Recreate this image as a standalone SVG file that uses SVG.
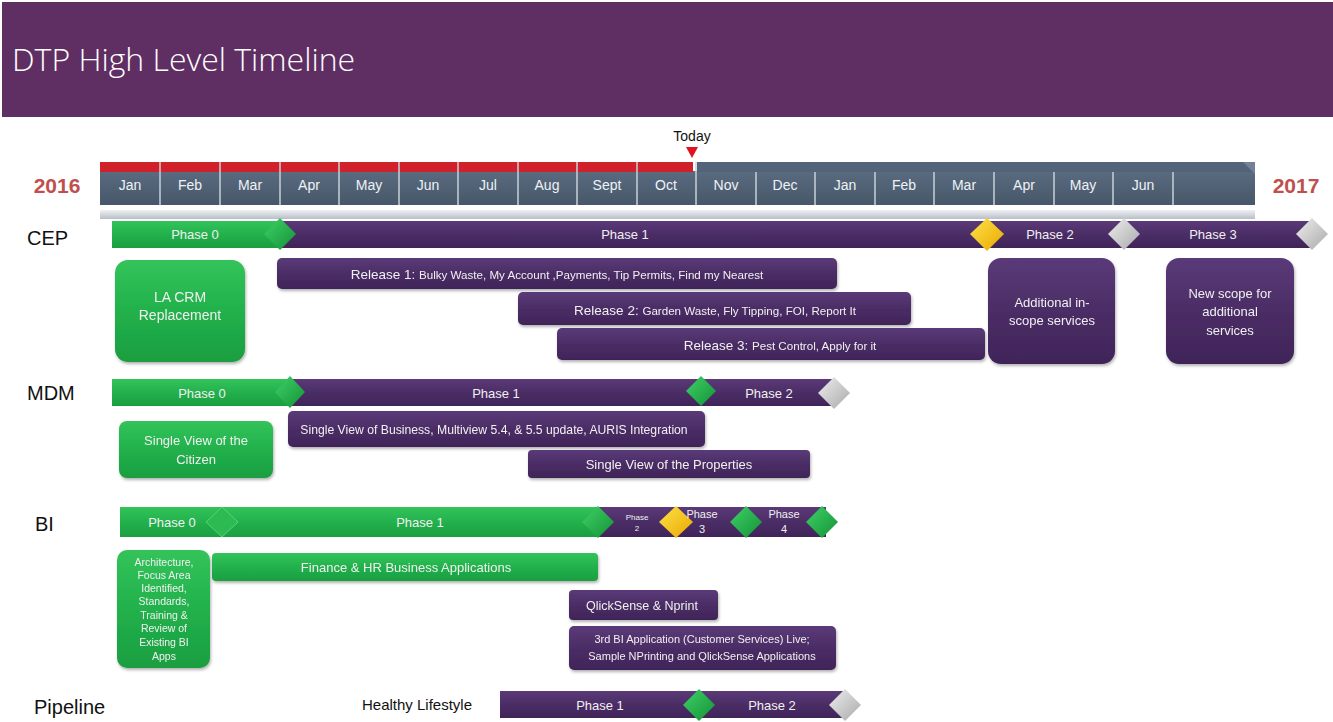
<svg xmlns="http://www.w3.org/2000/svg" width="1333" height="722" viewBox="0 0 1333 722">
<defs>
<linearGradient id="gPur" x1="0" y1="0" x2="0" y2="1"><stop offset="0" stop-color="#5a3a78"/><stop offset="0.5" stop-color="#4b2d66"/><stop offset="1" stop-color="#3f2458"/></linearGradient>
<linearGradient id="gGrn" x1="0" y1="0" x2="0" y2="1"><stop offset="0" stop-color="#33c35a"/><stop offset="0.5" stop-color="#22b14c"/><stop offset="1" stop-color="#1a9e40"/></linearGradient>
<linearGradient id="gCell" x1="0" y1="0" x2="0" y2="1"><stop offset="0" stop-color="#5a6b80"/><stop offset="1" stop-color="#475769"/></linearGradient>
<linearGradient id="gBand" x1="0" y1="0" x2="0" y2="1"><stop offset="0" stop-color="#eef0f4"/><stop offset="1" stop-color="#b8bec8"/></linearGradient>
<linearGradient id="gDG" x1="0" y1="0" x2="1" y2="1"><stop offset="0" stop-color="#3fd168"/><stop offset="1" stop-color="#149236"/></linearGradient>
<linearGradient id="gDY" x1="0" y1="0" x2="1" y2="1"><stop offset="0" stop-color="#ffe24a"/><stop offset="1" stop-color="#e8a800"/></linearGradient>
<linearGradient id="gDW" x1="0" y1="0" x2="1" y2="1"><stop offset="0" stop-color="#eeeeee"/><stop offset="1" stop-color="#a9a9a9"/></linearGradient>
<filter id="sh" x="-10%" y="-10%" width="120%" height="130%"><feDropShadow dx="1" dy="2" stdDeviation="1.5" flood-color="#000" flood-opacity="0.3"/></filter>
</defs>
<style>
text{font-family:"Liberation Sans",Arial,sans-serif}
.mo{fill:#eef2f6;font-size:14px;text-anchor:middle}
.ph{fill:#f0f0f0;font-size:13px;text-anchor:middle}
.bx{fill:#f0f0f0;text-anchor:middle}
.lbl{fill:#111;font-size:20px}
.yr{fill:#c0504d;font-size:21px;font-weight:bold;text-anchor:middle}
.pur{fill:url(#gPur)}
.grn{fill:url(#gGrn)}
.dg{fill:url(#gDG)}
.dy{fill:url(#gDY)}
.dw{fill:url(#gDW)}
.sep{stroke:#c8d0da;stroke-width:1.5}
</style>

<g id="header">
<rect x="2" y="2" width="1331" height="115" fill="#5f2e62"/>
<text x="12" y="71" fill="#ffffff" font-size="32" font-weight="300" style="font-family:'Open Sans','Liberation Sans',sans-serif">DTP High Level Timeline</text>
</g>

<g id="timeline">
<rect x="100" y="171" width="1155" height="34" fill="url(#gCell)"/>
<rect x="100" y="162" width="593" height="10" fill="#d0202a"/>
<g class="sep">
<line x1="160" y1="162" x2="160" y2="205"/><line x1="220" y1="162" x2="220" y2="205"/><line x1="280" y1="162" x2="280" y2="205"/>
<line x1="339" y1="162" x2="339" y2="205"/><line x1="399" y1="162" x2="399" y2="205"/><line x1="458" y1="162" x2="458" y2="205"/>
<line x1="518" y1="162" x2="518" y2="205"/><line x1="577" y1="162" x2="577" y2="205"/><line x1="637" y1="162" x2="637" y2="205"/>
<line x1="696" y1="162" x2="696" y2="205"/><line x1="756" y1="162" x2="756" y2="205"/><line x1="815" y1="162" x2="815" y2="205"/>
<line x1="875" y1="162" x2="875" y2="205"/><line x1="934" y1="162" x2="934" y2="205"/><line x1="994" y1="162" x2="994" y2="205"/>
<line x1="1054" y1="162" x2="1054" y2="205"/><line x1="1113" y1="162" x2="1113" y2="205"/><line x1="1173" y1="162" x2="1173" y2="205"/>
</g>
<rect x="697" y="162" width="558" height="10" fill="#53647a"/>
<polygon points="1243,162 1255,162 1255,174" fill="#8794a6" opacity="0.6"/>
<text class="mo" x="130" y="190">Jan</text><text class="mo" x="190" y="190">Feb</text><text class="mo" x="250" y="190">Mar</text>
<text class="mo" x="309" y="190">Apr</text><text class="mo" x="369" y="190">May</text><text class="mo" x="428" y="190">Jun</text>
<text class="mo" x="488" y="190">Jul</text><text class="mo" x="547" y="190">Aug</text><text class="mo" x="607" y="190">Sept</text>
<text class="mo" x="666" y="190">Oct</text><text class="mo" x="726" y="190">Nov</text><text class="mo" x="785" y="190">Dec</text>
<text class="mo" x="845" y="190">Jan</text><text class="mo" x="904" y="190">Feb</text><text class="mo" x="964" y="190">Mar</text>
<text class="mo" x="1024" y="190">Apr</text><text class="mo" x="1083" y="190">May</text><text class="mo" x="1143" y="190">Jun</text>
<rect x="100" y="210" width="1155" height="9" fill="url(#gBand)"/>
<text class="yr" x="57" y="193">2016</text>
<text class="yr" x="1296" y="193">2017</text>
<text x="692" y="141" fill="#111" font-size="14" text-anchor="middle">Today</text>
<polygon points="686,147 698,147 692,158" fill="#e0141e"/>
</g>

<g id="cep">
<text class="lbl" x="27" y="245">CEP</text>
<rect class="pur" x="280" y="221" width="1033" height="27"/>
<rect class="grn" x="112" y="221" width="168" height="27"/>
<polygon class="dg" points="280,218 296,234 280,250 264,234"/>
<polygon class="dy" points="987,218 1004,234 987,251 970,234"/>
<polygon class="dw" points="1124,218 1140,234 1124,250 1108,234"/>
<polygon class="dw" points="1312,218 1328,234 1312,250 1296,234"/>
<text class="ph" x="195" y="239">Phase 0</text>
<text class="ph" x="625" y="239">Phase 1</text>
<text class="ph" x="1050" y="239">Phase 2</text>
<text class="ph" x="1213" y="239">Phase 3</text>
</g>

<g id="cep-la-crm" filter="url(#sh)">
<rect class="grn" x="115" y="260" width="130" height="102" rx="13"/>
<text class="bx" font-size="14" x="180" y="302">LA CRM</text>
<text class="bx" font-size="14" x="180" y="320">Replacement</text>
</g>
<g id="cep-release1" filter="url(#sh)">
<rect class="pur" x="277" y="258" width="560" height="31" rx="5"/>
<text class="bx" x="557" y="279"><tspan font-size="13.5">Release 1: </tspan><tspan font-size="11.6">Bulky Waste, My Account ,Payments, Tip Permits, Find my Nearest</tspan></text>
</g>
<g id="cep-release2" filter="url(#sh)">
<rect class="pur" x="518" y="292" width="393" height="33" rx="5"/>
<text class="bx" x="715" y="315"><tspan font-size="13.5">Release 2: </tspan><tspan font-size="11.6">Garden Waste, Fly Tipping, FOI, Report It</tspan></text>
</g>
<g id="cep-release3" filter="url(#sh)">
<rect class="pur" x="557" y="328" width="428" height="32" rx="5"/>
<text class="bx" x="780" y="350"><tspan font-size="13.5">Release 3: </tspan><tspan font-size="11.6">Pest Control, Apply for it</tspan></text>
</g>
<g id="cep-additional" filter="url(#sh)">
<rect class="pur" x="988" y="258" width="127" height="106" rx="13"/>
<text class="bx" font-size="13" x="1052" y="307">Additional in-</text>
<text class="bx" font-size="13" x="1052" y="325">scope services</text>
</g>
<g id="cep-newscope" filter="url(#sh)">
<rect class="pur" x="1166" y="258" width="128" height="106" rx="13"/>
<text class="bx" font-size="13" x="1230" y="298">New scope for</text>
<text class="bx" font-size="13" x="1230" y="316">additional</text>
<text class="bx" font-size="13" x="1230" y="335">services</text>
</g>

<g id="mdm">
<text class="lbl" x="27" y="400">MDM</text>
<rect class="pur" x="290" y="379" width="545" height="27"/>
<rect class="grn" x="112" y="379" width="178" height="27"/>
<polygon class="dg" points="290,376 305,392 290,408 275,392"/>
<polygon class="dg" points="701,376 716,391 701,406 686,391"/>
<polygon class="dw" points="834,377 850,393 834,409 818,393"/>
<text class="ph" x="202" y="398">Phase 0</text>
<text class="ph" x="496" y="398">Phase 1</text>
<text class="ph" x="769" y="398">Phase 2</text>
</g>
<g id="mdm-citizen" filter="url(#sh)">
<rect class="grn" x="119" y="421" width="154" height="57" rx="8"/>
<text class="bx" font-size="13" x="196" y="445">Single View of the</text>
<text class="bx" font-size="13" x="196" y="464">Citizen</text>
</g>
<g id="mdm-business" filter="url(#sh)">
<rect class="pur" x="288" y="411" width="417" height="36" rx="5"/>
<text class="bx" font-size="12.2" x="494" y="434">Single View  of Business,  Multiview 5.4, &amp; 5.5 update,  AURIS Integration</text>
</g>
<g id="mdm-properties" filter="url(#sh)">
<rect class="pur" x="528" y="450" width="282" height="28" rx="4"/>
<text class="bx" font-size="13" x="669" y="469">Single View of the Properties</text>
</g>

<g id="bi">
<text class="lbl" x="35" y="531">BI</text>
<rect class="pur" x="598" y="507" width="228" height="30"/>
<rect class="grn" x="120" y="507" width="478" height="30"/>
<polygon points="222,507 238,522 222,537 206,522" fill="#2cbb52" stroke="#5ad27a" stroke-width="1"/>
<polygon class="dg" points="598,506 614,522 598,538 582,522"/>
<polygon class="dy" points="676,506 693,522 676,538 659,522"/>
<polygon class="dg" points="746,506 762,522 746,538 730,522"/>
<polygon class="dg" points="822,506 838,522 822,538 806,522"/>
<text class="ph" x="172" y="527">Phase 0</text>
<text class="ph" x="420" y="527">Phase 1</text>
<text class="bx" font-size="8" x="637" y="520">Phase</text>
<text class="bx" font-size="8" x="637" y="531">2</text>
<text class="bx" font-size="11" x="702" y="518">Phase</text>
<text class="bx" font-size="11" x="702" y="533">3</text>
<text class="bx" font-size="11" x="784" y="518">Phase</text>
<text class="bx" font-size="11" x="784" y="533">4</text>
</g>
<g id="bi-architecture" filter="url(#sh)">
<rect class="grn" x="117" y="550" width="93" height="118" rx="10"/>
<g class="bx" font-size="10.5">
<text x="164" y="566">Architecture,</text>
<text x="164" y="579">Focus Area</text>
<text x="164" y="592">Identified,</text>
<text x="164" y="605">Standards,</text>
<text x="164" y="619">Training &amp;</text>
<text x="164" y="632">Review of</text>
<text x="164" y="646">Existing BI</text>
<text x="164" y="660">Apps</text>
</g>
</g>
<g id="bi-finance" filter="url(#sh)">
<rect class="grn" x="212" y="553" width="386" height="28" rx="4"/>
<text class="bx" font-size="13" x="406" y="572">Finance &amp; HR Business Applications</text>
</g>
<g id="bi-qlick" filter="url(#sh)">
<rect class="pur" x="569" y="590" width="149" height="30" rx="4"/>
<text class="bx" font-size="12.5" x="642" y="610">QlickSense  &amp; Nprint</text>
</g>
<g id="bi-3rd" filter="url(#sh)">
<rect class="pur" x="569" y="626" width="267" height="44" rx="5"/>
<text class="bx" font-size="11" x="702" y="643">3rd BI Application (Customer Services) Live;</text>
<text class="bx" font-size="11" x="702" y="660">Sample NPrinting and QlickSense Applications</text>
</g>

<g id="pipeline">
<text class="lbl" x="34" y="714">Pipeline</text>
<text x="417" y="710" fill="#111" font-size="15" text-anchor="middle">Healthy Lifestyle</text>
<rect class="pur" x="500" y="691" width="345" height="27"/>
<polygon class="dg" points="699,689 715,705 699,721 683,705"/>
<polygon class="dw" points="845,689 861,705 845,721 829,705"/>
<text class="ph" x="600" y="710">Phase 1</text>
<text class="ph" x="772" y="710">Phase 2</text>
</g>
</svg>
